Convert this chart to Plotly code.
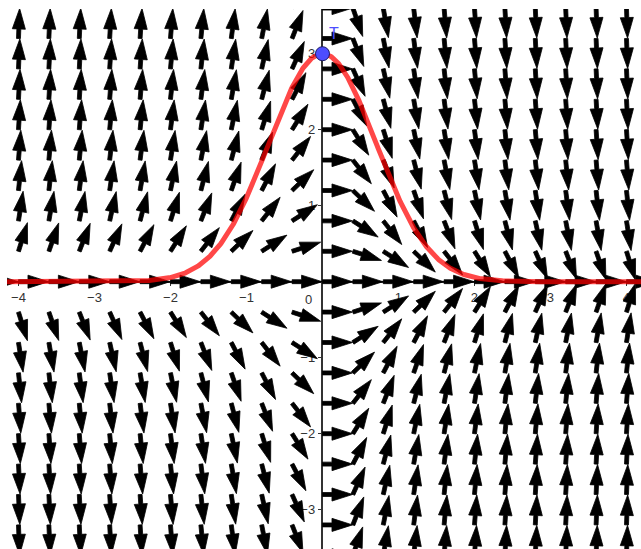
import numpy as np
import plotly.graph_objects as go

# Direction field for y' = -2xy, sampled on a 0.4-unit lattice
grid_x = [-4.4, -4.0, -3.6, -3.2, -2.8, -2.4, -2.0, -1.6, -1.2, -0.8, -0.4, 0.0,
          0.4, 0.8, 1.2, 1.6, 2.0, 2.4, 2.8, 3.2, 3.6, 4.0, 4.4]
grid_y = [-3.6, -3.2, -2.8, -2.4, -2.0, -1.6, -1.2, -0.8, -0.4, 0.0,
          0.4, 0.8, 1.2, 1.6, 2.0, 2.4, 2.8, 3.2, 3.6]

# Initial point of the plotted solution
point_T = (0.0, 3.0)
point_label = "T"

# Axis tick labels
x_ticks = [-4, -3, -2, -1, 1, 2, 3, 4]
y_ticks = [-3, -2, -1, 1, 2, 3]

x_range = [-4.151, 4.191]
y_range = [-3.517, 3.588]


def slope(x, y):
    return -2.0 * x * y


# Arrow geometry (data units; both axes share the same scale)
ARROW_LEN = 0.395
HEAD_LEN = 0.27
HEAD_HALF = 0.086
SHAFT_HALF = 0.026

ax_pts, ay_pts = [], []
for x0 in grid_x:
    for y0 in grid_y:
        s = slope(x0, y0)
        n = np.hypot(1.0, s)
        dx, dy = 1.0 / n, s / n
        nx, ny = -dy, dx
        bx, by = x0 + dx * (ARROW_LEN - HEAD_LEN), y0 + dy * (ARROW_LEN - HEAD_LEN)
        poly = [
            (x0 + nx * SHAFT_HALF, y0 + ny * SHAFT_HALF),
            (bx + nx * SHAFT_HALF, by + ny * SHAFT_HALF),
            (bx + nx * HEAD_HALF, by + ny * HEAD_HALF),
            (x0 + dx * ARROW_LEN, y0 + dy * ARROW_LEN),
            (bx - nx * HEAD_HALF, by - ny * HEAD_HALF),
            (bx - nx * SHAFT_HALF, by - ny * SHAFT_HALF),
            (x0 - nx * SHAFT_HALF, y0 - ny * SHAFT_HALF),
            (x0 + nx * SHAFT_HALF, y0 + ny * SHAFT_HALF),
        ]
        for px, py in poly:
            ax_pts.append(px)
            ay_pts.append(py)
        ax_pts.append(None)
        ay_pts.append(None)


# Solution curve through T, integrated with RK4 in both directions
def integrate(x0, y0, x_end, h=0.01):
    xs, ys = [x0], [y0]
    step = h if x_end > x0 else -h
    x, y = x0, y0
    while (x_end - x) * step > 0:
        k1 = slope(x, y)
        k2 = slope(x + step / 2, y + step * k1 / 2)
        k3 = slope(x + step / 2, y + step * k2 / 2)
        k4 = slope(x + step, y + step * k3)
        y += step * (k1 + 2 * k2 + 2 * k3 + k4) / 6
        x += step
        xs.append(x)
        ys.append(y)
    return xs, ys


lx, ly = integrate(point_T[0], point_T[1], x_range[0] - 0.1)
rx, ry = integrate(point_T[0], point_T[1], x_range[1] + 0.1)
curve_x = lx[::-1] + rx[1:]
curve_y = ly[::-1] + ry[1:]

fig = go.Figure()

fig.add_trace(go.Scatter(
    x=ax_pts, y=ay_pts, mode="lines", fill="toself",
    fillcolor="black", line=dict(color="black", width=0.8),
    hoverinfo="skip", showlegend=False,
))

fig.add_trace(go.Scatter(
    x=curve_x, y=curve_y, mode="lines",
    line=dict(color="rgba(255,0,0,0.72)", width=5),
    hoverinfo="skip", showlegend=False,
))

fig.add_trace(go.Scatter(
    x=[point_T[0]], y=[point_T[1]], mode="markers",
    marker=dict(size=14, color="#4d4dff", line=dict(color="#1a1a66", width=1)),
    hoverinfo="skip", showlegend=False,
))

fig.add_annotation(
    x=point_T[0], y=point_T[1], xref="x", yref="y", text=point_label,
    showarrow=False, xanchor="center", yanchor="middle", xshift=12, yshift=20,
    font=dict(family="Liberation Sans, Arial, sans-serif", size=16, color="#4d4dff"),
)

fig.add_annotation(
    x=0, y=0, xref="x", yref="y", text="0", showarrow=False,
    xanchor="right", yanchor="top", xshift=-8, yshift=-8,
    font=dict(family="Liberation Sans, Arial, sans-serif", size=13, color="#333333"),
)

axis_font = dict(family="Liberation Sans, Arial, sans-serif", size=13, color="#333333")

fig.update_layout(
    width=641, height=549,
    margin=dict(l=7, r=0, t=9, b=0),
    paper_bgcolor="white", plot_bgcolor="white",
    showlegend=False,
    xaxis=dict(
        range=x_range, anchor="free",
        position=(0 - y_range[0]) / (y_range[1] - y_range[0]),
        showgrid=False, zeroline=False, showline=True,
        linecolor="#333333", linewidth=1.5,
        ticks="outside", ticklen=4, tickwidth=1.2, tickcolor="#333333",
        tickvals=x_ticks, tickfont=axis_font, layer="below traces",
        fixedrange=True,
    ),
    yaxis=dict(
        range=y_range, anchor="free",
        position=(0 - x_range[0]) / (x_range[1] - x_range[0]),
        showgrid=False, zeroline=False, showline=True,
        linecolor="#333333", linewidth=1.5,
        ticks="outside", ticklen=4, tickwidth=1.2, tickcolor="#333333",
        tickvals=y_ticks, tickfont=axis_font, layer="below traces",
        fixedrange=True,
    ),
)

fig.write_html("out.html")
